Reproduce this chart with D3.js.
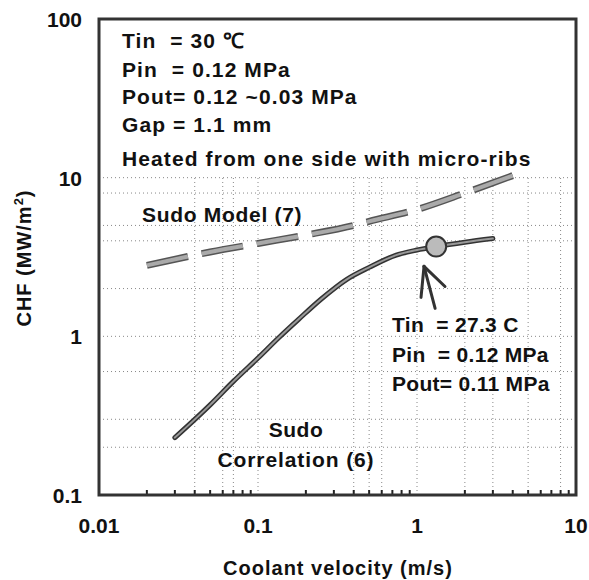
<!DOCTYPE html>
<html>
<head>
<meta charset="utf-8">
<script src="https://cdn.jsdelivr.net/npm/d3@7"></script>
<style>
  body { margin: 0; background: #fff; }
  text { font-family: "Liberation Sans", Arial, sans-serif; font-weight: bold; fill: #111; }
</style>
</head>
<body>
<div id="chart"></div>
<script>
// Sudo Model (7) - dashed gray curve
const modelV = [0.02, 0.05, 0.1, 0.2, 0.4, 0.5, 1, 2, 4];
const modelChf = [2.8, 3.4, 3.85, 4.35, 5.0, 5.3, 6.3, 8.0, 10.3];

// Sudo Correlation (6) - solid curve
const corrV = [0.03, 0.05, 0.07, 0.1, 0.135, 0.18, 0.25, 0.36, 0.5, 0.74, 1, 1.32, 2, 3];
const corrChf = [0.23, 0.37, 0.52, 0.73, 0.98, 1.28, 1.72, 2.28, 2.72, 3.25, 3.5, 3.68, 3.92, 4.13];

// experimental point
const pointV = [1.32];
const pointChf = [3.68];

const xTicks = [0.01, 0.1, 1, 10];
const xTickLabels = ['0.01', '0.1', '1', '10'];
const yTicks = [0.1, 1, 10, 100];
const yTickLabels = ['0.1', '1', '10', '100'];

const xGrid = [0.04, 0.06, 0.07, 0.1, 0.4, 0.5, 0.6, 1, 2, 3, 5, 8];
const yGrid = [0.2, 0.3, 0.6, 1, 2, 4, 5, 8, 10];

const width = 589, height = 580;
const margin = { left: 99, right: 13, top: 19, bottom: 85 };

let svg = d3.select('#chart').append('svg')
  .attr('width', width)
  .attr('height', height);

let x = d3.scaleLog().domain([0.01, 10]).range([margin.left, width - margin.right]);
let y = d3.scaleLog().domain([0.1, 100]).range([height - margin.bottom, margin.top]);

// dotted grid
svg.append('g').selectAll('line')
  .data(xGrid)
  .join('line')
  .attr('x1', d => x(d)).attr('x2', d => x(d))
  .attr('y1', y(0.1)).attr('y2', y(10))
  .attr('stroke', '#888').attr('stroke-width', 1).attr('stroke-dasharray', '1,3');

svg.append('g').selectAll('line')
  .data(yGrid)
  .join('line')
  .attr('y1', d => y(d)).attr('y2', d => y(d))
  .attr('x1', x(0.01)).attr('x2', x(10))
  .attr('stroke', '#888').attr('stroke-width', 1).attr('stroke-dasharray', '1,3');

// minor ticks on bottom axis
let minor = [];
[0.01, 0.1, 1].forEach(dec => { for (let k = 2; k <= 9; k++) minor.push(dec * k); });
svg.append('g').selectAll('line')
  .data(minor)
  .join('line')
  .attr('x1', d => x(d)).attr('x2', d => x(d))
  .attr('y1', y(0.1)).attr('y2', y(0.1) - 5)
  .attr('stroke', '#222').attr('stroke-width', 2);

// frame
svg.append('rect')
  .attr('x', x(0.01)).attr('y', y(100))
  .attr('width', x(10) - x(0.01)).attr('height', y(0.1) - y(100))
  .attr('fill', 'none').attr('stroke', '#333').attr('stroke-width', 3);

// tick labels
svg.append('g').selectAll('text')
  .data(xTicks)
  .join('text')
  .attr('x', d => x(d)).attr('y', height - 47)
  .attr('text-anchor', 'middle').attr('font-size', 21)
  .text((d, i) => xTickLabels[i]);

svg.append('g').selectAll('text')
  .data(yTicks)
  .join('text')
  .attr('x', margin.left - 17).attr('y', d => y(d) + 8)
  .attr('text-anchor', 'end').attr('font-size', 21)
  .text((d, i) => yTickLabels[i]);

// axis titles
svg.append('text')
  .attr('x', 338).attr('y', 575)
  .attr('text-anchor', 'middle').attr('font-size', 20)
  .attr('letter-spacing', 1)
  .text('Coolant velocity (m/s)');

let yt = svg.append('text')
  .attr('transform', 'translate(31,258) rotate(-90)')
  .attr('text-anchor', 'middle').attr('font-size', 20)
  .attr('letter-spacing', 1);
yt.append('tspan').text('CHF (MW/m');
yt.append('tspan').attr('font-size', 13).attr('dy', -8).text('2');
yt.append('tspan').attr('dy', 8).text(')');

// curves
let line = d3.line()
  .x(d => x(d[0]))
  .y(d => y(d[1]))
  .curve(d3.curveMonotoneX);

let modelData = modelV.map((v, i) => [v, modelChf[i]]);
let corrData = corrV.map((v, i) => [v, corrChf[i]]);

svg.append('path')
  .attr('d', line(modelData))
  .attr('fill', 'none').attr('stroke', '#555').attr('stroke-width', 7)
  .attr('stroke-dasharray', '42,14');
svg.append('path')
  .attr('d', line(modelData))
  .attr('fill', 'none').attr('stroke', '#aaa').attr('stroke-width', 4)
  .attr('stroke-dasharray', '42,14');

svg.append('path')
  .attr('d', line(corrData))
  .attr('fill', 'none').attr('stroke', '#333').attr('stroke-width', 5)
  .attr('stroke-linecap', 'round');
svg.append('path')
  .attr('d', line(corrData))
  .attr('fill', 'none').attr('stroke', '#999').attr('stroke-width', 2)
  .attr('stroke-linecap', 'round');

svg.append('g').selectAll('circle')
  .data(pointV)
  .join('circle')
  .attr('cx', d => x(d))
  .attr('cy', (d, i) => y(pointChf[i]))
  .attr('r', 10)
  .attr('fill', '#bbb').attr('stroke', '#333').attr('stroke-width', 2);

// arrow pointing at the experimental point
const arrowTip = [1.107, 2.76];
const arrowEnds = [[1.06, 1.76], [1.3, 1.5], [1.5, 2.06]];
svg.append('g').selectAll('line')
  .data(arrowEnds)
  .join('line')
  .attr('x1', x(arrowTip[0])).attr('y1', y(arrowTip[1]))
  .attr('x2', d => x(d[0])).attr('y2', d => y(d[1]))
  .attr('stroke', '#333').attr('stroke-width', 3).attr('stroke-linecap', 'round');

// annotations
const boxLines = ['Tin  = 30 ℃', 'Pin  = 0.12 MPa', 'Pout= 0.12 ~0.03 MPa', 'Gap = 1.1 mm', 'Heated from one side with micro-ribs'];
const boxY = [48, 77, 104, 132, 166];
svg.append('g').selectAll('text')
  .data(boxLines)
  .join('text')
  .attr('x', 122).attr('y', (d, i) => boxY[i])
  .attr('font-size', 21).attr('letter-spacing', 1.1)
  .style('white-space', 'pre')
  .text(d => d);

svg.append('text')
  .attr('x', 142).attr('y', 222)
  .attr('font-size', 21).attr('letter-spacing', 0.7)
  .text('Sudo Model (7)');

const ptLines = ['Tin  = 27.3 C', 'Pin  = 0.12 MPa', 'Pout= 0.11 MPa'];
const ptY = [332, 362, 391];
svg.append('g').selectAll('text')
  .data(ptLines)
  .join('text')
  .attr('x', 392).attr('y', (d, i) => ptY[i])
  .attr('font-size', 21).attr('letter-spacing', 0.3)
  .style('white-space', 'pre')
  .text(d => d);

svg.append('text')
  .attr('x', 296).attr('y', 437)
  .attr('text-anchor', 'middle').attr('font-size', 21).attr('letter-spacing', 0.5)
  .text('Sudo');
svg.append('text')
  .attr('x', 296).attr('y', 467)
  .attr('text-anchor', 'middle').attr('font-size', 21).attr('letter-spacing', 0.9)
  .text('Correlation (6)');
</script>
</body>
</html>
